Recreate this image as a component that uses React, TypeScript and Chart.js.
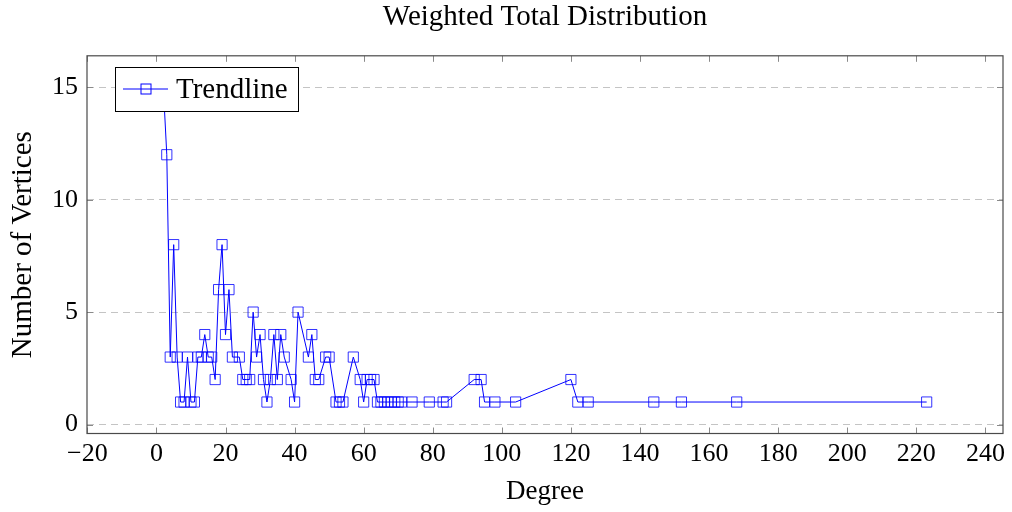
import React, { useEffect, useRef } from 'react';
import { Chart, registerables } from 'chart.js';

Chart.register(...registerables);

// Data (Degree -> Number of Vertices)
const degrees = [
  2, 3, 4, 5, 6, 7, 8, 9, 10, 11, 12, 13, 14, 15, 16, 17, 18, 19, 20, 21, 22,
  24, 25, 26, 27, 28, 29, 30, 31, 32, 33, 34, 35, 36, 37,
  39, 40, 41, 44, 45, 46, 47, 49, 50, 52, 53, 54, 57,
  59, 60, 61, 62, 63, 64, 65, 66, 67, 68, 69, 70, 71, 74, 79, 83, 84,
  92, 94, 95, 98, 104, 120, 122, 125, 144, 152, 168, 223,
];
const vertexCounts = [
  15, 12, 3, 8, 3, 1, 1, 3, 1, 1, 3, 3, 4, 3, 3, 2, 6, 8, 4, 6, 3,
  3, 2, 2, 2, 5, 3, 4, 2, 1, 2, 4, 2, 4, 3,
  2, 1, 5, 3, 4, 2, 2, 3, 3, 1, 1, 1, 3,
  2, 1, 2, 2, 2, 1, 1, 1, 1, 1, 1, 1, 1, 1, 1, 1, 1,
  2, 2, 1, 1, 1, 2, 1, 1, 1, 1, 1, 1,
];
const xTicks = [-20, 0, 20, 40, 60, 80, 100, 120, 140, 160, 180, 200, 220, 240];
const yTicks = [0, 5, 10, 15];
const seriesLabel = 'Trendline';
const chartTitle = 'Weighted Total Distribution';
const xTitle = 'Degree';
const yTitle = 'Number of Vertices';

const X_MIN = -20.1;
const X_MAX = 245.1;
const Y_MIN = -0.4;
const Y_MAX = 16.4;

const FONT = "'Liberation Serif', 'Times New Roman', serif";
const BLUE = '#0000ff';

const fmt = (v: number) => (v < 0 ? '\u2212' + Math.abs(v) : String(v));

const framePlugin = {
  id: 'frameTicks',
  afterDatasetsDraw(chart: any) {
    const { ctx, chartArea: a, scales } = chart;
    const x = scales.x;
    const y = scales.y;
    ctx.save();
    ctx.strokeStyle = '#8a8a8a';
    ctx.lineWidth = 1;
    ctx.beginPath();
    xTicks.forEach((v) => {
      const px = Math.round(x.getPixelForValue(v)) + 0.5;
      ctx.moveTo(px, a.bottom);
      ctx.lineTo(px, a.bottom - 6);
      ctx.moveTo(px, a.top);
      ctx.lineTo(px, a.top + 6);
    });
    yTicks.forEach((v) => {
      const py = Math.round(y.getPixelForValue(v)) + 0.5;
      ctx.moveTo(a.left, py);
      ctx.lineTo(a.left + 6, py);
      ctx.moveTo(a.right, py);
      ctx.lineTo(a.right - 6, py);
    });
    ctx.stroke();
    ctx.strokeStyle = '#4a4a4a';
    ctx.lineWidth = 1.2;
    ctx.strokeRect(a.left, a.top, a.right - a.left, a.bottom - a.top);
    ctx.restore();
  },
  afterDraw(chart: any) {
    const { ctx, chartArea: a } = chart;
    const ds = chart.data.datasets[0];
    const bx = Math.round(a.left) + 28;
    const by = Math.round(a.top) + 11;
    const bw = 183;
    const bh = 44;
    ctx.save();
    ctx.fillStyle = '#ffffff';
    ctx.fillRect(bx, by, bw, bh);
    ctx.strokeStyle = '#000000';
    ctx.lineWidth = 1;
    ctx.strokeRect(bx + 0.5, by + 0.5, bw, bh);
    const cy = by + bh / 2;
    ctx.strokeStyle = ds.borderColor;
    ctx.lineWidth = 1;
    ctx.beginPath();
    ctx.moveTo(bx + 8, cy);
    ctx.lineTo(bx + 53, cy);
    ctx.stroke();
    ctx.strokeRect(bx + 26, cy - 5, 10, 10);
    ctx.fillStyle = '#000000';
    ctx.font = `29px ${FONT}`;
    ctx.textBaseline = 'middle';
    ctx.textAlign = 'left';
    ctx.fillText(ds.label, bx + 61, cy + 1);
    ctx.restore();
  },
};

export default function App() {
  const canvasRef = useRef<HTMLCanvasElement | null>(null);

  useEffect(() => {
    if (!canvasRef.current) return;
    const points = degrees.map((d, i) => ({ x: d, y: vertexCounts[i] }));
    const chart = new Chart(canvasRef.current, {
      type: 'line',
      data: {
        datasets: [
          {
            label: seriesLabel,
            data: points,
            borderColor: BLUE,
            borderWidth: 1,
            backgroundColor: 'rgba(0,0,0,0)',
            pointStyle: 'rect',
            pointRadius: 7.2,
            pointBorderWidth: 1,
            pointBorderColor: 'rgba(0,0,255,0.8)',
            pointBackgroundColor: 'rgba(0,0,0,0)',
            tension: 0,
            fill: false,
          },
        ],
      },
      plugins: [framePlugin],
      options: {
        animation: false,
        responsive: true,
        maintainAspectRatio: false,
        layout: { padding: { left: 0, right: 9, top: 0, bottom: 0 } },
        plugins: {
          legend: { display: false },
          tooltip: { enabled: false },
          title: {
            display: true,
            fullSize: false,
            text: chartTitle,
            color: '#000',
            font: { family: FONT, size: 29, weight: 'normal' },
            padding: { top: 0, bottom: 21 },
          },
        },
        scales: {
          x: {
            type: 'linear',
            min: X_MIN,
            max: X_MAX,
            afterBuildTicks: (s: any) => {
              s.ticks = xTicks.map((v) => ({ value: v }));
            },
            afterFit: (s: any) => {
              s.height = 78.5;
            },
            grid: { display: false, drawTicks: false },
            border: { display: false },
            ticks: {
              color: '#000',
              font: { family: FONT, size: 26 },
              padding: 5,
              maxRotation: 0,
              autoSkip: false,
              callback: (v: any) => fmt(Number(v)),
            },
            title: {
              display: true,
              text: xTitle,
              color: '#000',
              font: { family: FONT, size: 27 },
              padding: { top: 0, bottom: 4 },
            },
          },
          y: {
            type: 'linear',
            min: Y_MIN,
            max: Y_MAX,
            afterBuildTicks: (s: any) => {
              s.ticks = yTicks.map((v) => ({ value: v }));
            },
            afterFit: (s: any) => {
              s.width = 87;
            },
            grid: { color: '#c4c4c4', lineWidth: 1, drawTicks: false },
            border: { display: false, dash: [7, 5] },
            ticks: {
              color: '#000',
              font: { family: FONT, size: 26 },
              padding: 9,
              autoSkip: false,
              callback: (v: any) => fmt(Number(v)),
            },
            title: {
              display: true,
              text: yTitle,
              color: '#000',
              font: { family: FONT, size: 29 },
              padding: { top: 6, bottom: 12 },
            },
          },
        },
      },
    });
    return () => chart.destroy();
  }, []);

  return (
    <div style={{ position: 'fixed', left: 0, top: 0, width: 1012, height: 512, background: '#fff' }}>
      <canvas ref={canvasRef} />
    </div>
  );
}
